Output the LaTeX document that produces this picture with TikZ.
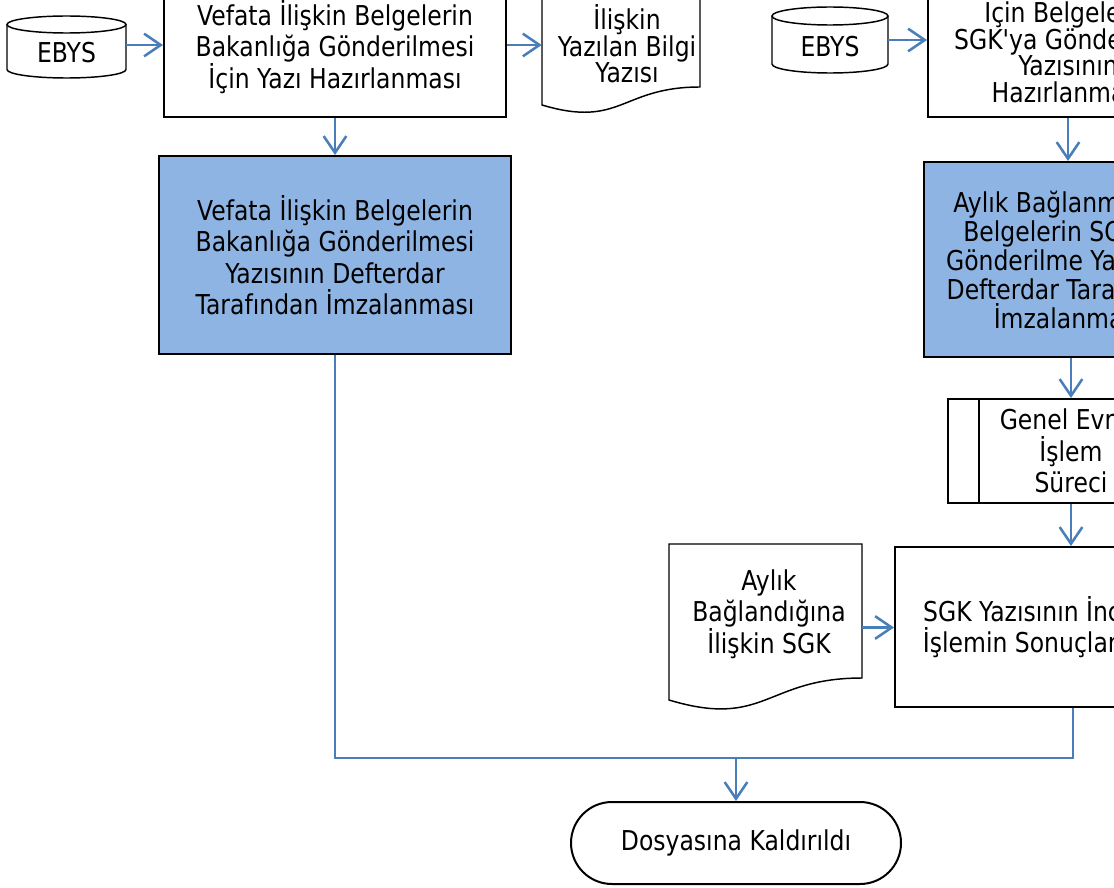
\documentclass[tikz,border=0pt]{standalone}
\usepackage{fontspec}
\newfontfamily\djf{DejaVu Sans}[FakeStretch=0.86]
\usetikzlibrary{arrows.meta}
\definecolor{lineblue}{HTML}{4A7EBB}
\definecolor{boxblue}{HTML}{8EB4E3}
\begin{document}
\begin{tikzpicture}[x=0.75pt,y=-0.75pt,
  every node/.style={font=\djf\fontsize{20.5pt}{23.6pt}\selectfont, inner sep=0pt, align=center},
  conn/.style={draw=lineblue, line width=1.9pt, -{Straight Barb[length=12.5pt,width=17pt]}},
  wire/.style={draw=lineblue, line width=1.9pt},
  boxed/.style={draw=black, line width=1.5pt},
  bluebox/.style={boxed, fill=boxblue},
  outline/.style={draw=black, line width=1.1pt},
  ghost/.style={draw=none}]
\useasboundingbox (0,0) rectangle (1114,888);
\clip (0,0) rectangle (1114,888);

% left column
\node[ghost, minimum width=89.25pt, minimum height=43.5pt] (ebys1) at (66.5,45) {};
\draw[outline] (66.5,24.5) ellipse [x radius=59.5, y radius=8.5];
\draw[outline] (7,24.5) -- (7,69.5) arc[start angle=180, end angle=0, x radius=59.5, y radius=8.5] -- (126,24.5);
\node (ebys1t) at (66.5,53) {EBYS};

\node[boxed, minimum width=256.5pt, minimum height=105pt] (box1) at (335,47)
  {Vefata İlişkin Belgelerin\\Bakanlığa Gönderilmesi\\İçin Yazı Hazırlanması};

\node[ghost, minimum width=118.5pt, minimum height=60pt] (doc1) at (621,45) {};
\draw[outline] (700,-30) -- (700,87) .. controls (621,87) and (621,128.6) .. (542,105) -- (542,-30);
\node[font=\djf\fontsize{20.5pt}{19.5pt}\selectfont] (doc1t) at (627,44) {İlişkin\\Yazılan Bilgi\\Yazısı};

\node[bluebox, minimum width=264pt, minimum height=148.5pt] (box2) at (335,255)
  {Vefata İlişkin Belgelerin\\Bakanlığa Gönderilmesi\\Yazısının Defterdar\\Tarafından İmzalanması};

% right column
\node[ghost, minimum width=87pt, minimum height=43.5pt] (ebys2) at (830,40) {};
\draw[outline] (830,16) ellipse [x radius=58, y radius=9];
\draw[outline] (772,16) -- (772,64) arc[start angle=180, end angle=0, x radius=58, y radius=9] -- (888,16);
\node (ebys2t) at (830,47) {EBYS};

\node[boxed, minimum width=210pt, minimum height=97.5pt] (box3) at (1068,52) {};
\node[font=\djf\fontsize{20.5pt}{19.9pt}\selectfont] (box3t) at (1068,50)
  {İçin Belgelerin\\SGK'ya Gönderilme\\Yazısının\\Hazırlanması};

\node[bluebox, minimum width=216pt, minimum height=146.25pt, font=\djf\fontsize{20.5pt}{21.75pt}\selectfont] (box4) at (1068,259.5)
  {Aylık Bağlanmasına\\Belgelerin SGK'ya\\Gönderilme Yazısının\\Defterdar Tarafından\\İmzalanması};

\node[boxed, minimum width=184.5pt, minimum height=78pt] (genel) at (1071,451)
  {Genel Evrak\\İşlem\\Süreci};
\draw[boxed] (genel.north west) ++(32,0) -- ++(0,104);
\draw[boxed] (genel.north east) ++(-32,0) -- ++(0,104);

\node[ghost, minimum width=144.75pt, minimum height=60pt] (doc2) at (765.5,627.5) {};
\draw[outline] (669,544) -- (862,544) -- (862,678) .. controls (765.5,678) and (765.5,729) .. (669,700) -- cycle;
\node (doc2t) at (769,614) {Aylık\\Bağlandığına\\İlişkin SGK};

\node[boxed, minimum width=267pt, minimum height=120pt] (sgk) at (1073,627)
  {SGK Yazısının İncelenerek\\İşlemin Sonuçlandırılması};

\node[boxed, minimum width=247.5pt, minimum height=61.5pt, rounded corners=30.75pt] (term) at (736,843)
  {Dosyasına Kaldırıldı};

% connectors
\draw[conn] (ebys1.east) -- (ebys1.east -| box1.west);
\draw[conn] (box1.east |- doc1.west) -- (doc1.west);
\draw[conn] (box1.south) -- (box2.north);
\draw[conn] (ebys2.east) -- (ebys2.east -| box3.west);
\draw[conn] (box3.south) -- (box4.north);
\draw[conn] (genel.north |- box4.south) -- (genel.north);
\draw[conn] (genel.south) -- (genel.south |- sgk.north);
\draw[conn] (doc2.east) -- (doc2.east -| sgk.west);
\coordinate (join) at (736,758);
\draw[wire] (box2.south) |- (join) -| (sgk.south);
\draw[conn] (join) -- (term.north);
\end{tikzpicture}
\end{document}
